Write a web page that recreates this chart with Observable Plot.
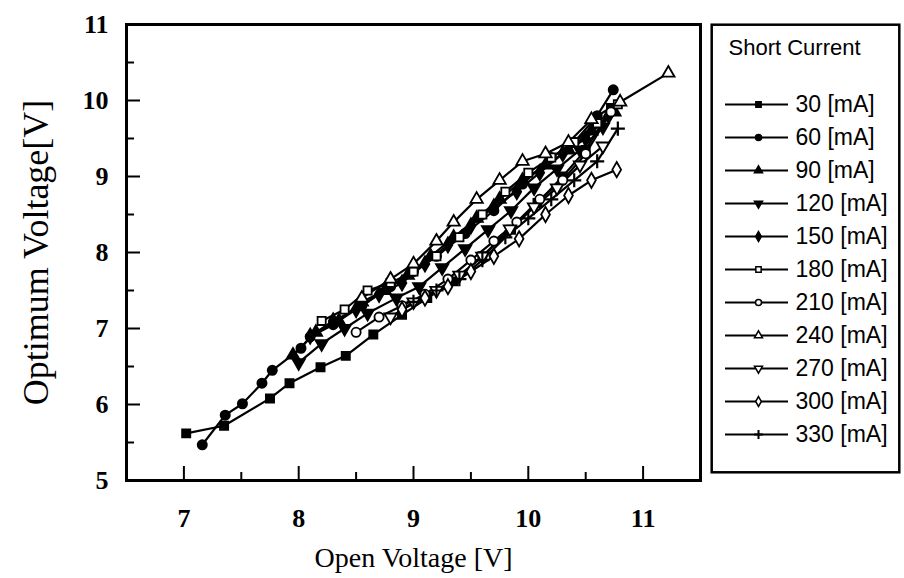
<!DOCTYPE html>
<html><head><meta charset="utf-8">
<script src="https://cdn.jsdelivr.net/npm/d3@7"></script>
<script src="https://cdn.jsdelivr.net/npm/@observablehq/plot@0.6"></script>
<style>
html,body{margin:0;padding:0;background:#fff;}
#wrap{position:relative;width:904px;height:578px;overflow:hidden;background:#fff}
#main{position:absolute;left:0;top:0}
#legend{position:absolute;left:710px;top:23px}
</style></head><body><div id="wrap"><div id="main"></div><div id="legend"></div></div>
<script>
// ---------- data ----------
const currents = [30, 60, 90, 120, 150, 180, 210, 240, 270, 300, 330];
const legendTitle = "Short Current";
const xTitle = "Open Voltage [V]";
const yTitle = "Optimum Voltage[V]";
const xTicks = [7, 8, 9, 10, 11];
const yTicks = [5, 6, 7, 8, 9, 10, 11];
const xMinor = [7.5, 8.5, 9.5, 10.5];
const yMinor = [5.5, 6.5, 7.5, 8.5, 9.5, 10.5];

const open30 = [7.02, 7.35, 7.75, 7.92, 8.19, 8.41, 8.65, 8.9, 9.12, 9.35, 9.6, 9.85, 10.08, 10.3, 10.5, 10.72];
const opt30  = [5.62, 5.72, 6.08, 6.28, 6.49, 6.64, 6.92, 7.18, 7.4, 7.62, 7.95, 8.3, 8.65, 9.0, 9.35, 9.9];
const open60 = [7.16, 7.36, 7.51, 7.68, 7.77, 8.02, 8.1, 8.3, 8.55, 8.8, 9.0, 9.2, 9.45, 9.7, 9.95, 10.2, 10.4, 10.6, 10.74];
const opt60  = [5.47, 5.86, 6.01, 6.28, 6.45, 6.74, 6.89, 7.05, 7.3, 7.55, 7.75, 7.95, 8.25, 8.55, 8.9, 9.25, 9.45, 9.8, 10.14];
const open90 = [7.95, 8.15, 8.35, 8.55, 8.75, 8.95, 9.15, 9.35, 9.55, 9.75, 9.95, 10.15, 10.35, 10.55, 10.75];
const opt90  = [6.65, 6.95, 7.1, 7.35, 7.5, 7.7, 7.95, 8.2, 8.45, 8.7, 8.95, 9.15, 9.35, 9.6, 9.85];
const open120 = [8.0, 8.2, 8.4, 8.6, 8.85, 9.05, 9.25, 9.45, 9.65, 9.85, 10.05, 10.25, 10.45, 10.65];
const opt120  = [6.55, 6.8, 7.0, 7.2, 7.4, 7.55, 7.8, 8.05, 8.3, 8.55, 8.85, 9.1, 9.35, 9.65];
const open150 = [8.1, 8.3, 8.5, 8.7, 8.9, 9.1, 9.3, 9.5, 9.7, 9.9, 10.1, 10.3, 10.5, 10.7];
const opt150  = [6.9, 7.1, 7.25, 7.45, 7.6, 7.85, 8.1, 8.35, 8.6, 8.8, 9.05, 9.3, 9.5, 9.8];
const open180 = [8.2, 8.4, 8.6, 8.8, 9.0, 9.2, 9.4, 9.6, 9.8, 10.0, 10.2, 10.4, 10.6, 10.78];
const opt180  = [7.1, 7.25, 7.5, 7.6, 7.75, 7.95, 8.2, 8.5, 8.8, 9.05, 9.25, 9.45, 9.7, 9.95];
const open210 = [8.5, 8.7, 8.9, 9.1, 9.3, 9.5, 9.7, 9.9, 10.1, 10.3, 10.5, 10.72];
const opt210  = [6.95, 7.15, 7.3, 7.45, 7.65, 7.9, 8.15, 8.4, 8.7, 8.95, 9.3, 9.85];
const open240 = [8.55, 8.8, 9.0, 9.2, 9.35, 9.55, 9.75, 9.95, 10.15, 10.35, 10.55, 10.8, 11.22];
const opt240  = [7.4, 7.65, 7.85, 8.15, 8.4, 8.7, 8.95, 9.2, 9.3, 9.45, 9.75, 9.98, 10.36];
const open270 = [8.8, 9.0, 9.2, 9.4, 9.6, 9.84, 10.05, 10.25, 10.45, 10.65];
const opt270  = [7.15, 7.35, 7.5, 7.7, 7.95, 8.31, 8.6, 8.85, 9.15, 9.4];
const open300 = [8.9, 9.1, 9.3, 9.5, 9.7, 9.92, 10.15, 10.35, 10.55, 10.77];
const opt300  = [7.25, 7.4, 7.55, 7.75, 7.95, 8.18, 8.5, 8.75, 8.95, 9.09];
const open330 = [9.0, 9.2, 9.4, 9.6, 9.8, 10.0, 10.2, 10.4, 10.6, 10.78];
const opt330  = [7.35, 7.5, 7.65, 7.9, 8.2, 8.45, 8.7, 8.95, 9.2, 9.63];

const openArrs = [open30, open60, open90, open120, open150, open180, open210, open240, open270, open300, open330];
const optArrs  = [opt30, opt60, opt90, opt120, opt150, opt180, opt210, opt240, opt270, opt300, opt330];

// ---------- styling ----------
const triangleDown = {
  draw(context, size) {
    const s3 = Math.sqrt(3);
    const y = -Math.sqrt(size / (s3 * 3));
    context.moveTo(0, -y * 2);
    context.lineTo(-s3 * y, y);
    context.lineTo(s3 * y, y);
    context.closePath();
  }
};
const symbols = ["square", "circle", "triangle", triangleDown, "diamond", "square", "circle", "triangle", triangleDown, "diamond", "plus"];
const fills = ["black", "black", "black", "black", "black", "white", "white", "white", "white", "white", "none"];

const series = currents.map((c, i) => ({
  current: c,
  label: `${c} [mA]`,
  symbol: symbols[i],
  fill: fills[i],
  rows: openArrs[i].map((x, j) => ({current: c, open: x, opt: optArrs[i][j]}))
}));

const W = 704, H = 578, mL = 126, mT = 24, mR = 4, mB = 98;
const fw = W - mL - mR, fh = H - mT - mB;

const marks = [];
// inward ticks
marks.push(Plot.ruleX(xTicks, {x: d => d, insetTop: fh - 14, stroke: "black", strokeWidth: 2}));
marks.push(Plot.ruleX(xMinor, {x: d => d, insetTop: fh - 8, stroke: "black", strokeWidth: 2}));
marks.push(Plot.ruleY(yTicks, {y: d => d, insetRight: fw - 14, stroke: "black", strokeWidth: 2}));
marks.push(Plot.ruleY(yMinor, {y: d => d, insetRight: fw - 8, stroke: "black", strokeWidth: 2}));
for (const s of series) {
  marks.push(Plot.line(s.rows, {x: "open", y: "opt", stroke: "black", strokeWidth: 2.2}));
}
for (const s of series) {
  marks.push(Plot.dot(s.rows, {x: "open", y: "opt", symbol: s.symbol, r: 4.6,
    fill: s.fill, stroke: "black", strokeWidth: s.fill === "none" ? 2.2 : 1.8}));
}
marks.push(Plot.frame({stroke: "black", strokeWidth: 3}));
marks.push(Plot.axisX(xTicks, {tickSize: 0, tickPadding: 28, fontSize: 26, fontWeight: "bold", tickFormat: d3.format("d"), label: null}));
marks.push(Plot.axisY(yTicks, {tickSize: 0, tickPadding: 18, fontSize: 26, fontWeight: "bold", tickFormat: d3.format("d"), label: null}));
marks.push(Plot.text([xTitle], {frameAnchor: "bottom", dy: 78, fontSize: 28, textAnchor: "middle", lineAnchor: "middle", text: d => d}));
marks.push(Plot.text([yTitle], {frameAnchor: "left", dx: -90, rotate: -90, fontSize: 36, textAnchor: "middle", lineAnchor: "middle", text: d => d}));

const main = Plot.plot({
  width: W, height: H,
  marginLeft: mL, marginTop: mT, marginRight: mR, marginBottom: mB,
  x: {domain: [6.5, 11.5]},
  y: {domain: [5, 11]},
  style: {fontFamily: "Liberation Serif, serif", color: "black", background: "white", overflow: "visible"},
  marks
});
document.getElementById("main").appendChild(main);

// ---------- legend ----------
const LW = 190, LH = 450;
const legendRows = series.map(s => ({label: s.label}));
const lmarks = [
  Plot.frame({stroke: "black", strokeWidth: 2.5, inset: 1.2}),
  Plot.text([legendTitle], {frameAnchor: "top-left", dx: 18, dy: 24, text: d => d, fontSize: 22, textAnchor: "start", lineAnchor: "middle"}),
  Plot.ruleY(legendRows, {y: "label", x1: 15, x2: 78, stroke: "black", strokeWidth: 2})
];
series.forEach((s, i) => {
  lmarks.push(Plot.dot([legendRows[i]], {x: 48, y: "label", symbol: s.symbol, r: 3,
    fill: s.fill, stroke: "black", strokeWidth: s.fill === "none" ? 2 : 1.5}));
});
lmarks.push(Plot.text(legendRows, {x: 85, y: "label", text: "label", textAnchor: "start", fontSize: 23}));

const legend = Plot.plot({
  width: LW, height: LH, margin: 0,
  x: {domain: [0, LW], range: [0, LW], axis: null},
  y: {type: "point", domain: legendRows.map(d => d.label), range: [62, 430], axis: null},
  style: {fontFamily: "'Liberation Sans Narrow', 'Liberation Sans', sans-serif", color: "black", background: "white", overflow: "visible"},
  marks: lmarks
});
document.getElementById("legend").appendChild(legend);
</script></body></html>
